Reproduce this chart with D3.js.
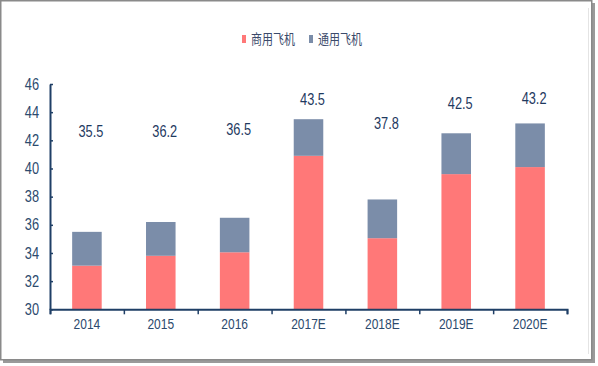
<!DOCTYPE html>
<html>
<head>
<meta charset="utf-8">
<script src="https://cdn.jsdelivr.net/npm/d3@7"></script>
<style>
  body { margin: 0; background: #fff; }
  svg text { font-family: "Liberation Sans", Arial, sans-serif; }
</style>
</head>
<body>
<div id="chart"></div>
<script>
// categories and series
const years = ['2014', '2015', '2016', '2017E', '2018E', '2019E', '2020E'];
const commercial = [33.1, 33.8, 34.05, 40.9, 35.05, 39.6, 40.1];
const general = [2.4, 2.4, 2.45, 2.6, 2.75, 2.9, 3.1];
const totals = [35.5, 36.2, 36.5, 43.5, 37.8, 42.5, 43.2];
// the total labels float at these heights (axis units)
const labelLevel = [42.6, 42.6, 42.8, 44.9, 43.2, 44.6, 44.95];
const yTicks = [30, 32, 34, 36, 38, 40, 42, 44, 46];
const seriesNames = ['商用飞机', '通用飞机'];
const colors = ['#FF7878', '#7B8DA9'];

const W = 598, H = 366;
const squeeze = 0.8; // the original uses a narrow font
const svg = d3.select('#chart').append('svg')
  .attr('width', W)
  .attr('height', H);

// frame with a little shadow
svg.append('rect')
  .attr('x', 3).attr('y', 3).attr('width', 592).attr('height', 360)
  .attr('fill', '#9a9a9a');
svg.append('rect')
  .attr('x', 0.75).attr('y', 0.75).attr('width', 591).attr('height', 359)
  .attr('fill', '#fff')
  .attr('stroke', '#8a8a8a')
  .attr('stroke-width', 1.5);
svg.append('line')
  .attr('x1', 588.5).attr('x2', 588.5).attr('y1', 8).attr('y2', 354)
  .attr('stroke', '#e4e4e4');

const m = {left: 50, right: 567, top: 84, bottom: 309.3};

const x = d3.scaleBand()
  .domain(years)
  .range([m.left, m.right])
  .paddingInner(0.6)
  .paddingOuter(0.3);
const xEdge = d3.scaleLinear().domain([0, years.length]).range([m.left, m.right]);
const y = d3.scaleLinear().domain([30, 46]).range([m.bottom, m.top]);

// bars
const rows = years.map((yr, i) => ({yr, c: commercial[i], g: general[i]}));
const g = svg.append('g');
g.selectAll('.com')
  .data(rows)
  .enter().append('rect')
  .attr('class', 'com')
  .attr('x', d => x(d.yr))
  .attr('width', x.bandwidth())
  .attr('y', d => y(d.c))
  .attr('height', d => y(30) - y(d.c))
  .attr('fill', colors[0]);
g.selectAll('.gen')
  .data(rows)
  .enter().append('rect')
  .attr('class', 'gen')
  .attr('x', d => x(d.yr))
  .attr('width', x.bandwidth())
  .attr('y', d => y(d.c + d.g))
  .attr('height', d => y(d.c) - y(d.c + d.g))
  .attr('fill', colors[1]);

// total labels
svg.selectAll('.lbl')
  .data(years)
  .enter().append('g')
  .attr('class', 'lbl')
  .attr('transform', (d, i) => `translate(${x(d) + x.bandwidth() / 2 + 4},${y(labelLevel[i])}) scale(${squeeze},1)`)
  .append('text')
  .attr('dy', '0.35em')
  .attr('text-anchor', 'middle')
  .attr('font-size', 16)
  .attr('fill', '#1F3A5F')
  .text((d, i) => totals[i].toFixed(1));

// axes
const axisColor = '#1F3F66';
const yAxis = svg.append('g')
  .attr('transform', `translate(${m.left},0)`)
  .call(d3.axisLeft(y).tickValues(yTicks).tickSizeInner(-3).tickSizeOuter(0).tickPadding(11));
yAxis.select('.domain').attr('stroke', axisColor).attr('stroke-width', 2);
yAxis.selectAll('.tick line').attr('stroke', axisColor).attr('stroke-width', 1.5);
yAxis.selectAll('.tick text')
  .attr('font-size', 16)
  .attr('fill', '#2C4A6E')
  .attr('x', -11 / squeeze)
  .attr('transform', `scale(${squeeze},1)`);

const xTicks = svg.append('g')
  .attr('transform', `translate(0,${m.bottom})`)
  .call(d3.axisBottom(xEdge).tickValues(d3.range(years.length + 1)).tickSize(5).tickFormat(''));
xTicks.select('.domain').attr('stroke', axisColor).attr('stroke-width', 2);
xTicks.selectAll('.tick line').attr('stroke', axisColor).attr('stroke-width', 1.5);

const xLabels = svg.append('g')
  .attr('transform', `translate(0,${m.bottom})`)
  .call(d3.axisBottom(x).tickSize(0).tickPadding(9));
xLabels.select('.domain').remove();
xLabels.selectAll('.tick text')
  .attr('font-size', 15)
  .attr('fill', '#2C4A6E')
  .attr('transform', `scale(${squeeze},1)`);

// legend
const legend = svg.append('g');
const legendX = [242, 309];
seriesNames.forEach((name, i) => {
  legend.append('rect')
    .attr('x', legendX[i]).attr('y', 35)
    .attr('width', 4).attr('height', 8)
    .attr('fill', colors[i]);
  legend.append('text')
    .attr('x', legendX[i] + 9).attr('y', 39)
    .attr('dy', '0.35em')
    .attr('font-size', 14)
    .attr('textLength', 44)
    .attr('lengthAdjust', 'spacingAndGlyphs')
    .attr('fill', '#3B4A6B')
    .style('font-family', '"Noto Sans CJK SC", sans-serif')
    .text(name);
});
</script>
</body>
</html>
